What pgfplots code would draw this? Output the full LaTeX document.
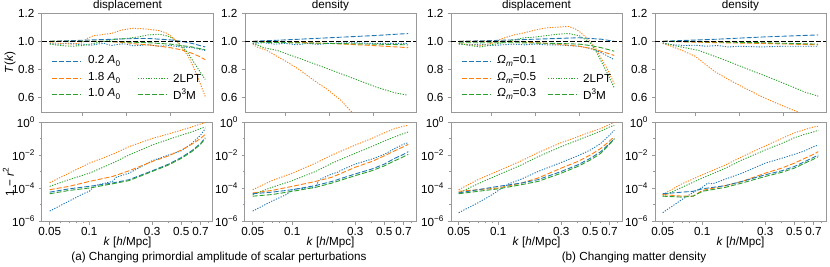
\documentclass[border=0pt]{standalone}
\usepackage{fontspec}
\setmainfont{Liberation Sans}
\usepackage{pgfplots}
\pgfplotsset{compat=1.18}
\definecolor{cB}{HTML}{1F77B4}
\definecolor{cO}{HTML}{FF7F0E}
\definecolor{cG}{HTML}{2CA02C}
\definecolor{frm}{HTML}{999999}
\newcommand{\fsz}{\fontsize{11.7}{14}\selectfont}
\newcommand{\sups}[1]{\raisebox{0.45em}{\fontsize{8.2}{9}\selectfont #1}}
\newcommand{\subs}[1]{\raisebox{-0.25em}{\fontsize{8.2}{9}\selectfont #1}}
\tikzset{dA/.style={dash pattern=on 5pt off 2pt, line width=0.9pt},
         dO/.style={dash pattern=on 1.2pt off 1.4pt, line width=0.9pt}}
% legend row: colour, style, x0, x1, xtext, y, text
\newcommand{\legrow}[7]{%
  \draw[#1, #2] (axis description cs:#3,#6) -- (axis description cs:#4,#6);
  \node[anchor=west, inner sep=0pt, font=\fsz, text=black] at (axis description cs:#5,#6) {#7};}
\pgfplotsset{
 baseax/.style={scale only axis, width=171pt, height=99pt,
   axis line style={frm, line width=1pt},
   tick style={frm, line width=0.8pt},
   tick align=outside, tick pos=left,
   major tick length=3.5pt, minor tick length=2pt,
   every axis title shift=0pt, title style={inner sep=1.5pt, font=\fsz},
   ticklabel style={font=\fsz},
   xticklabel style={yshift=1.2pt},
 },
 topax/.style={baseax, xmin=0.0145, xmax=0.7955, ymin=0.5, ymax=1.2,
   xtick={0.2,0.4,0.6}, xticklabels={},
   ytick={0.6,0.8,1.0,1.2}, yticklabels={0.6,0.8,1.0,1.2}},
 botax/.style={baseax, xmin=0.0437, xmax=0.87, ymin=1e-6, ymax=1,
   xtick={0.05,0.1,0.3,0.5,0.7}, xticklabels={0.05,0.1,0.3,0.5,0.7},
   minor xtick={0.06,0.07,0.08,0.09,0.2,0.4,0.6,0.8},
   ytick={1e-6,1e-4,1e-2,1}, yticklabels={10\sups{−6},10\sups{−4},10\sups{−2},10\sups{0}},
   minor ytick={1e-5,1e-3,1e-1},
   xlabel={\textit{k} [\textit{h}/Mpc]},
   xlabel style={at={(axis description cs:0.5,-0.22)}, anchor=center, font=\fsz}},
}
\begin{document}
\fsz
\begin{tikzpicture}[font=\fsz]
\path[use as bounding box] (0,0) rectangle (830pt,-266pt);

% ================= Panel 1 top =================
\begin{axis}[topax, at={(42pt,-13pt)}, anchor=north west, title={displacement}, ylabel={\textit{T}(\textit{k})},
  ylabel style={at={(axis description cs:-0.187,0.5)}, rotate=0, anchor=center, font=\fsz}]
\addplot[cB, dO] coordinates {(0.05,0.985)(0.08,0.98)(0.1,0.98)(0.13,0.987)(0.15,0.985)(0.18,0.978)(0.2,0.98)(0.23,0.972)(0.25,0.975)(0.28,0.983)(0.3,0.985)(0.33,0.97)(0.35,0.975)(0.38,0.982)(0.4,0.98)(0.43,0.968)(0.45,0.97)(0.5,0.975)(0.55,0.965)(0.6,0.97)(0.65,0.96)(0.7,0.955)(0.73,0.945)(0.76,0.935)};
\addplot[cB, dA] coordinates {(0.05,1.0)(0.15,1.005)(0.25,1.01)(0.35,1.015)(0.45,1.02)(0.5,1.02)(0.55,1.015)(0.6,1.01)(0.65,1.0)(0.7,0.985)(0.76,0.96)};
\addplot[cO, dO] coordinates {(0.05,0.99)(0.1,0.985)(0.15,0.98)(0.2,0.99)(0.22,1.02)(0.25,1.04)(0.28,1.045)(0.3,1.05)(0.33,1.055)(0.35,1.065)(0.38,1.08)(0.4,1.085)(0.43,1.092)(0.45,1.09)(0.48,1.088)(0.5,1.085)(0.53,1.08)(0.55,1.075)(0.58,1.06)(0.6,1.04)(0.63,1.0)(0.65,0.96)(0.68,0.9)(0.7,0.84)(0.73,0.73)(0.76,0.61)};
\addplot[cO, dA] coordinates {(0.05,1.0)(0.2,1.0)(0.3,1.0)(0.35,0.995)(0.4,0.99)(0.45,0.98)(0.5,0.975)(0.55,0.965)(0.6,0.955)(0.65,0.94)(0.7,0.915)(0.73,0.895)(0.76,0.87)};
\addplot[cG, dO] coordinates {(0.05,0.98)(0.1,0.97)(0.15,0.965)(0.2,0.97)(0.25,0.985)(0.3,1.0)(0.35,1.015)(0.4,1.02)(0.45,1.03)(0.5,1.045)(0.55,1.05)(0.58,1.04)(0.6,1.03)(0.63,1.0)(0.65,0.97)(0.68,0.92)(0.7,0.87)(0.73,0.8)(0.76,0.73)};
\addplot[cG, dA] coordinates {(0.05,1.0)(0.3,1.0)(0.4,0.995)(0.5,0.99)(0.55,0.985)(0.6,0.98)(0.65,0.97)(0.7,0.96)(0.76,0.94)};
\addplot[black, dA, line width=1.2pt] coordinates {(0.0145,1)(0.7955,1)};
\legrow{cB}{dA}{0.058}{0.222}{0.269}{0.515}{0.2 \textit{A}\subs{0}}
\legrow{cO}{dA}{0.058}{0.222}{0.269}{0.343}{1.8 \textit{A}\subs{0}}
\legrow{cG}{dA}{0.058}{0.222}{0.269}{0.182}{1.0 \textit{A}\subs{0}}
\legrow{cG}{dO}{0.561}{0.731}{0.766}{0.343}{2LPT}
\legrow{cG}{dA}{0.561}{0.731}{0.766}{0.182}{D\sups{3}M}
\end{axis}

% ================= Panel 2 top =================
\begin{axis}[topax, at={(245pt,-13pt)}, anchor=north west, title={density}]
\addplot[cB, dO] coordinates {(0.05,0.985)(0.1,0.99)(0.15,0.98)(0.2,0.985)(0.25,0.975)(0.3,0.985)(0.35,0.978)(0.4,0.985)(0.5,0.99)(0.6,0.985)(0.76,0.985)};
\addplot[cB, dA] coordinates {(0.05,1.0)(0.2,1.01)(0.4,1.025)(0.6,1.04)(0.76,1.055)};
\addplot[cO, dO] coordinates {(0.05,0.98)(0.068,0.96)(0.114,0.936)(0.16,0.894)(0.206,0.854)(0.267,0.795)(0.328,0.725)(0.39,0.66)(0.451,0.584)(0.497,0.508)(0.55,0.44)(0.6,0.38)};
\addplot[cO, dA] coordinates {(0.05,1.0)(0.2,0.995)(0.4,0.985)(0.6,0.97)(0.76,0.955)};
\addplot[cG, dO] coordinates {(0.05,0.985)(0.061,0.98)(0.1,0.955)(0.16,0.936)(0.267,0.877)(0.39,0.807)(0.512,0.736)(0.62,0.673)(0.7,0.635)(0.758,0.619)};
\addplot[cG, dA] coordinates {(0.05,0.995)(0.2,0.99)(0.4,0.985)(0.6,0.98)(0.76,0.975)};
\addplot[black, dA, line width=1.2pt] coordinates {(0.0145,1)(0.7955,1)};
\end{axis}

% ================= Panel 3 top =================
\begin{axis}[topax, at={(451pt,-13pt)}, anchor=north west, title={displacement}]
\addplot[cB, dO] coordinates {(0.05,0.98)(0.1,0.975)(0.15,0.98)(0.2,0.97)(0.25,0.975)(0.3,0.98)(0.35,0.975)(0.4,0.98)(0.45,0.975)(0.5,0.975)(0.55,0.97)(0.6,0.965)(0.65,0.95)(0.7,0.92)(0.76,0.87)};
\addplot[cB, dA] coordinates {(0.05,1.0)(0.2,1.005)(0.3,1.01)(0.4,1.015)(0.5,1.02)(0.6,1.025)(0.65,1.02)(0.7,1.015)(0.76,1.0)};
\addplot[cO, dO] coordinates {(0.05,0.985)(0.1,0.975)(0.15,0.97)(0.2,0.985)(0.25,1.02)(0.3,1.045)(0.35,1.06)(0.4,1.08)(0.45,1.095)(0.5,1.1)(0.55,1.105)(0.58,1.09)(0.6,1.07)(0.63,1.03)(0.65,1.0)(0.68,0.94)(0.7,0.88)(0.73,0.8)(0.76,0.70)};
\addplot[cO, dA] coordinates {(0.05,1.0)(0.3,1.0)(0.4,0.99)(0.5,0.98)(0.6,0.965)(0.65,0.95)(0.7,0.93)(0.76,0.9)};
\addplot[cG, dO] coordinates {(0.05,0.985)(0.1,0.97)(0.15,0.96)(0.2,0.975)(0.25,0.99)(0.3,1.01)(0.35,1.025)(0.4,1.03)(0.45,1.04)(0.5,1.05)(0.55,1.055)(0.6,1.04)(0.63,1.01)(0.65,0.99)(0.68,0.92)(0.7,0.86)(0.73,0.77)(0.76,0.67)};
\addplot[cG, dA] coordinates {(0.05,0.99)(0.3,0.99)(0.5,0.985)(0.6,0.98)(0.65,0.97)(0.7,0.955)(0.76,0.93)};
\addplot[black, dA, line width=1.2pt] coordinates {(0.0145,1)(0.7955,1)};
\legrow{cB}{dA}{0.063}{0.228}{0.269}{0.515}{\textit{Ω}\subs{\textit{m}}=0.1}
\legrow{cO}{dA}{0.063}{0.228}{0.269}{0.343}{\textit{Ω}\subs{\textit{m}}=0.5}
\legrow{cG}{dA}{0.063}{0.228}{0.269}{0.182}{\textit{Ω}\subs{\textit{m}}=0.3}
\legrow{cG}{dO}{0.567}{0.737}{0.772}{0.343}{2LPT}
\legrow{cG}{dA}{0.567}{0.737}{0.772}{0.182}{D\sups{3}M}
\end{axis}

% ================= Panel 4 top =================
\begin{axis}[topax, at={(655pt,-13pt)}, anchor=north west, title={density}]
\addplot[cB, dO] coordinates {(0.05,0.985)(0.1,0.975)(0.15,0.97)(0.2,0.972)(0.25,0.965)(0.3,0.97)(0.35,0.96)(0.4,0.965)(0.5,0.96)(0.6,0.965)(0.76,0.965)};
\addplot[cB, dA] coordinates {(0.05,1.0)(0.3,1.015)(0.5,1.03)(0.76,1.045)};
\addplot[cO, dO] coordinates {(0.05,0.985)(0.08,0.97)(0.137,0.936)(0.198,0.894)(0.29,0.783)(0.35,0.73)(0.413,0.678)(0.504,0.607)(0.58,0.555)(0.658,0.506)(0.7,0.48)};
\addplot[cO, dA] coordinates {(0.05,1.0)(0.3,0.99)(0.5,0.985)(0.76,0.975)};
\addplot[cG, dO] coordinates {(0.05,0.99)(0.1,0.97)(0.213,0.936)(0.336,0.866)(0.443,0.8)(0.55,0.736)(0.642,0.678)(0.7,0.64)(0.76,0.612)};
\addplot[cG, dA] coordinates {(0.05,1.0)(0.3,0.995)(0.5,0.99)(0.76,0.98)};
\addplot[black, dA, line width=1.2pt] coordinates {(0.0145,1)(0.7955,1)};
\end{axis}

% ================= Panel 1 bottom =================
\begin{axis}[xmode=log, ymode=log, botax, at={(42pt,-122pt)}, anchor=north west, ylabel={1 − \textit{r}\sups{2}},
  ylabel style={at={(axis description cs:-0.197,0.39)}, rotate=0, anchor=center, font=\fsz}]
\addplot[cO, dO] coordinates {(0.05,2.1e-4)(0.07,7.9e-4)(0.1,3.2e-3)(0.15,1.1e-2)(0.2,3.2e-2)(0.3,0.1)(0.4,0.19)(0.5,0.32)(0.6,0.5)(0.7,0.76)(0.76,0.91)};
\addplot[cG, dO] coordinates {(0.05,1.26e-4)(0.07,3.2e-4)(0.1,7.9e-4)(0.15,3.2e-3)(0.2,1e-2)(0.3,4e-2)(0.4,8.9e-2)(0.5,0.16)(0.6,0.25)(0.7,0.4)(0.76,0.5)};
\addplot[cB, dO] coordinates {(0.05,4e-6)(0.07,1.6e-5)(0.09,4.5e-5)(0.1,6.3e-5)(0.11,1.4e-4)(0.15,2.5e-4)(0.16,4.5e-4)(0.2,7.9e-4)(0.3,4.5e-3)(0.4,1e-2)(0.5,1.8e-2)(0.6,5e-2)(0.7,0.16)(0.76,0.4)};
\addplot[cO, dA] coordinates {(0.05,7.9e-5)(0.07,1.26e-4)(0.1,2.5e-4)(0.15,5e-4)(0.2,1.1e-3)(0.3,4e-3)(0.4,8.9e-3)(0.5,2e-2)(0.6,4.5e-2)(0.7,0.1)(0.76,0.18)};
\addplot[cB, dA] coordinates {(0.05,5.6e-5)(0.07,8.9e-5)(0.1,1.26e-4)(0.15,2e-4)(0.2,3.2e-4)(0.3,1.1e-3)(0.4,2.8e-3)(0.5,7.1e-3)(0.6,1.8e-2)(0.7,5e-2)(0.76,0.11)};
\addplot[cG, dA] coordinates {(0.05,4.5e-5)(0.07,7.1e-5)(0.1,1e-4)(0.15,1.8e-4)(0.2,2.8e-4)(0.3,1e-3)(0.4,2.5e-3)(0.5,6.3e-3)(0.6,1.6e-2)(0.7,4.5e-2)(0.76,0.1)};
\end{axis}

% ================= Panel 2 bottom =================
\begin{axis}[xmode=log, ymode=log, botax, at={(245pt,-122pt)}, anchor=north west]
\addplot[cO, dO] coordinates {(0.05,7.9e-5)(0.07,2.8e-4)(0.1,7.9e-4)(0.15,3.2e-3)(0.2,1e-2)(0.3,4e-2)(0.4,0.1)(0.5,0.22)(0.6,0.4)(0.7,0.56)(0.76,0.63)};
\addplot[cG, dO] coordinates {(0.05,4e-5)(0.07,1.1e-4)(0.1,2.8e-4)(0.15,1e-3)(0.2,3.2e-3)(0.3,1.26e-2)(0.4,3.2e-2)(0.5,7.1e-2)(0.6,0.126)(0.7,0.2)(0.76,0.25)};
\addplot[cB, dO] coordinates {(0.05,4e-6)(0.07,1.6e-5)(0.09,4e-5)(0.1,7.9e-5)(0.11,8.9e-5)(0.15,1.1e-4)(0.16,3.2e-4)(0.2,7.1e-4)(0.22,8.9e-4)(0.23,1.1e-3)(0.3,2.8e-3)(0.4,5.6e-3)(0.5,1.1e-2)(0.6,2.5e-2)(0.7,4.5e-2)(0.76,5.6e-2)};
\addplot[cO, dA] coordinates {(0.05,5e-5)(0.07,7.1e-5)(0.1,1.26e-4)(0.15,2.5e-4)(0.2,4.5e-4)(0.3,1.8e-3)(0.4,4e-3)(0.5,8.9e-3)(0.6,1.8e-2)(0.7,3.2e-2)(0.76,4.5e-2)};
\addplot[cB, dA] coordinates {(0.05,4.5e-5)(0.07,5.6e-5)(0.1,7.9e-5)(0.15,1.4e-4)(0.2,2.5e-4)(0.3,7.1e-4)(0.4,1.4e-3)(0.5,2.8e-3)(0.6,6.3e-3)(0.7,1.1e-2)(0.76,1.6e-2)};
\addplot[cG, dA] coordinates {(0.05,3.2e-5)(0.07,4e-5)(0.1,6.3e-5)(0.15,1.1e-4)(0.2,2e-4)(0.3,5.6e-4)(0.4,1.1e-3)(0.5,2.2e-3)(0.6,4.5e-3)(0.7,7.9e-3)(0.76,1.1e-2)};
\end{axis}

% ================= Panel 3 bottom =================
\begin{axis}[xmode=log, ymode=log, botax, at={(451pt,-122pt)}, anchor=north west]
\addplot[cO, dO] coordinates {(0.05,7.9e-5)(0.07,3.2e-4)(0.1,1.1e-3)(0.15,4.5e-3)(0.2,1.4e-2)(0.3,5.6e-2)(0.4,0.126)(0.5,0.25)(0.6,0.4)(0.7,0.71)(0.76,0.95)};
\addplot[cG, dO] coordinates {(0.05,5e-5)(0.07,1.8e-4)(0.1,6.3e-4)(0.15,2.5e-3)(0.2,7.9e-3)(0.3,3.2e-2)(0.4,7.9e-2)(0.5,0.16)(0.6,0.28)(0.7,0.5)(0.76,0.63)};
\addplot[cB, dO] coordinates {(0.05,3.2e-6)(0.07,1.26e-5)(0.09,4e-5)(0.1,7.1e-5)(0.12,1.8e-4)(0.15,3.5e-4)(0.2,1e-3)(0.3,3.5e-3)(0.4,8.9e-3)(0.5,2e-2)(0.6,5e-2)(0.7,0.16)(0.76,0.32)};
\addplot[cO, dA] coordinates {(0.05,6.3e-5)(0.07,7.9e-5)(0.1,1e-4)(0.15,2e-4)(0.2,4e-4)(0.3,1.6e-3)(0.4,4e-3)(0.5,1e-2)(0.6,2.5e-2)(0.7,7.1e-2)(0.76,0.126)};
\addplot[cB, dA] coordinates {(0.05,5e-5)(0.07,7.9e-5)(0.1,1.26e-4)(0.15,2e-4)(0.2,3.2e-4)(0.3,1e-3)(0.4,2.5e-3)(0.5,6.3e-3)(0.6,1.6e-2)(0.7,5e-2)(0.76,0.1)};
\addplot[cG, dA] coordinates {(0.05,4.5e-5)(0.07,6.3e-5)(0.1,8.9e-5)(0.15,1.6e-4)(0.2,2.5e-4)(0.3,7.9e-4)(0.4,2e-3)(0.5,5e-3)(0.6,1.26e-2)(0.7,4.5e-2)(0.76,8.9e-2)};
\end{axis}

% ================= Panel 4 bottom =================
\begin{axis}[xmode=log, ymode=log, botax, at={(655pt,-122pt)}, anchor=north west]
\addplot[cO, dO] coordinates {(0.05,4e-5)(0.07,1.8e-4)(0.1,6.3e-4)(0.15,2.5e-3)(0.2,7.9e-3)(0.3,3.5e-2)(0.4,0.1)(0.5,0.22)(0.6,0.35)(0.7,0.5)(0.76,0.56)};
\addplot[cG, dO] coordinates {(0.05,3.2e-5)(0.07,1.1e-4)(0.1,4e-4)(0.15,1.6e-3)(0.2,5e-3)(0.3,2e-2)(0.4,5e-2)(0.5,0.11)(0.6,0.18)(0.7,0.25)(0.76,0.32)};
\addplot[cB, dO] coordinates {(0.05,3.2e-6)(0.07,2e-5)(0.09,7.1e-5)(0.1,1.1e-4)(0.11,2e-4)(0.12,1.8e-4)(0.15,3.5e-4)(0.2,7.9e-4)(0.3,3.2e-3)(0.4,6.3e-3)(0.5,1.1e-2)(0.6,1.8e-2)(0.7,3.2e-2)(0.76,4e-2)};
\addplot[cO, dA] coordinates {(0.05,4e-5)(0.07,3.2e-5)(0.085,3.2e-5)(0.1,7.1e-5)(0.15,1.4e-4)(0.2,2.5e-4)(0.3,7.9e-4)(0.4,1.6e-3)(0.5,3.2e-3)(0.6,6.3e-3)(0.7,1.1e-2)(0.76,1.6e-2)};
\addplot[cB, dA] coordinates {(0.05,4.5e-5)(0.07,5.6e-5)(0.085,6.3e-5)(0.1,8.9e-5)(0.15,1.4e-4)(0.2,2.5e-4)(0.3,6.3e-4)(0.4,1.1e-3)(0.5,2e-3)(0.6,4e-3)(0.7,7.1e-3)(0.76,1e-2)};
\addplot[cG, dA] coordinates {(0.05,3.2e-5)(0.07,2.8e-5)(0.085,3.2e-5)(0.1,6.3e-5)(0.15,1.1e-4)(0.2,2e-4)(0.3,5e-4)(0.4,8.9e-4)(0.5,1.6e-3)(0.6,3.2e-3)(0.7,5.6e-3)(0.76,7.9e-3)};
\end{axis}

\node[font=\fsz] at (219pt,-257pt) {(a) Changing primordial amplitude of scalar perturbations};
\node[font=\fsz] at (634pt,-257pt) {(b) Changing matter density};
\end{tikzpicture}
\end{document}
